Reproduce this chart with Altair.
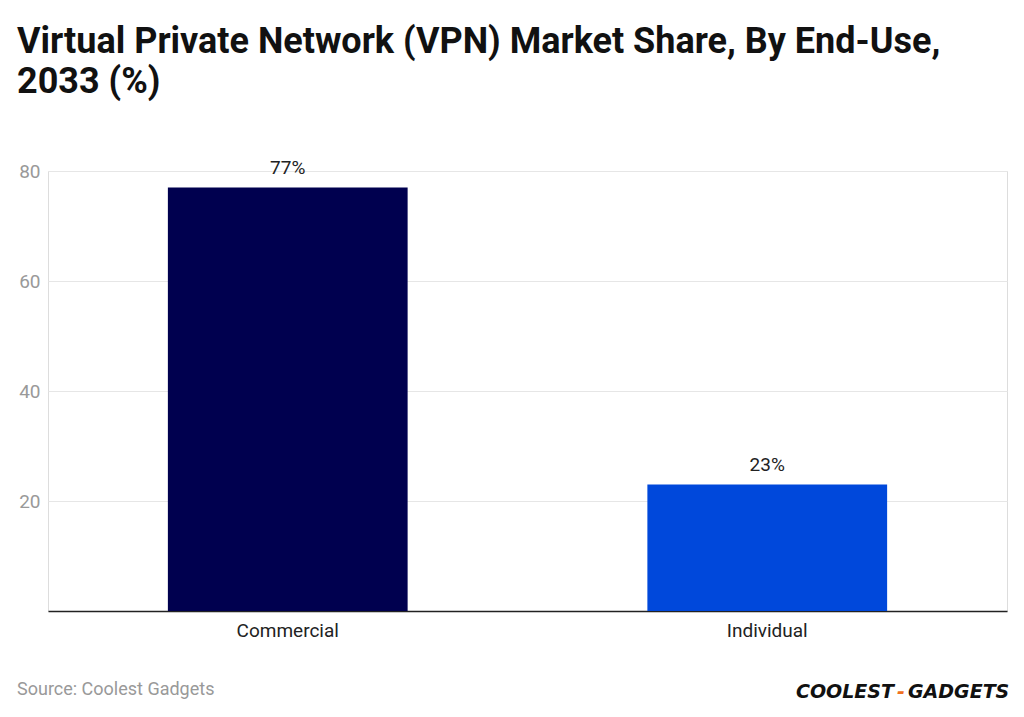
import altair as alt
import pandas as pd

categories = ["Commercial", "Individual"]
shares = [77, 23]
value_labels = ["77%", "23%"]
bar_colors = ["#00004f", "#0048db"]
y_ticks = [20, 40, 60, 80]
title_lines = ["Virtual Private Network (VPN) Market Share, By End-Use,", "2033 (%)"]
source_text = ["Source: Coolest Gadgets"]
logo_parts = ["COOLEST", "-", "GADGETS"]

df = pd.DataFrame({"cat": categories, "share": shares, "label": value_labels, "color": bar_colors})

W, H = 959, 440

x_enc = alt.X(
    "cat:N", sort=categories, title=None,
    scale=alt.Scale(paddingInner=0.5, paddingOuter=0.25),
    axis=alt.Axis(labelAngle=0, labelFontSize=19, labelColor="#222222", labelFont="Roboto",
                  ticks=False, domain=True, domainColor="#222222", domainWidth=1.5,
                  labelPadding=10, grid=False),
)
y_enc = alt.Y(
    "share:Q", title=None,
    scale=alt.Scale(domain=[0, 80], nice=False),
    axis=alt.Axis(values=y_ticks, labelFontSize=19, labelColor="#999999", labelFont="Roboto",
                  ticks=False, domain=False, gridColor="#e6e6e6", gridWidth=1, labelPadding=8),
)

base = alt.Chart(df)
bars = base.mark_bar().encode(x=x_enc, y=y_enc, color=alt.Color("color:N", scale=None))
vals = base.mark_text(dy=-10, fontSize=19, font="Roboto", color="#222222", baseline="bottom").encode(
    x=alt.X("cat:N", sort=categories), y="share:Q", text="label:N"
)

src = alt.Chart(pd.DataFrame({"t": source_text})).mark_text(
    align="left", baseline="middle", fontSize=18, font="Roboto", color="#999999"
).encode(x=alt.value(-31), y=alt.value(519), text="t:N")

logo1 = alt.Chart(pd.DataFrame({"t": [logo_parts[0]]})).mark_text(
    align="right", baseline="middle", fontSize=19, font="DejaVu Sans", fontWeight="bold",
    fontStyle="italic", color="#111111"
).encode(x=alt.value(846), y=alt.value(521), text="t:N")
logo2 = alt.Chart(pd.DataFrame({"t": [logo_parts[1]]})).mark_text(
    align="center", baseline="middle", fontSize=19, font="DejaVu Sans", fontWeight="bold",
    fontStyle="italic", color="#f07020"
).encode(x=alt.value(853), y=alt.value(521), text="t:N")
logo3 = alt.Chart(pd.DataFrame({"t": [logo_parts[2]]})).mark_text(
    align="left", baseline="middle", fontSize=19, font="DejaVu Sans", fontWeight="bold",
    fontStyle="italic", color="#111111"
).encode(x=alt.value(860), y=alt.value(521), text="t:N")

chart = alt.layer(bars, vals, src, logo1, logo2, logo3).properties(
    width=W, height=H,
    title=alt.TitleParams(
        text=title_lines, anchor="start", frame="group", dx=-31, offset=58,
        fontSize=36, font="Roboto", fontWeight="bold", color="#111111", lineHeight=40,
    ),
    padding={"left": 40, "top": 163, "right": 9, "bottom": 90},
    autosize=alt.AutoSizeParams(type="none"),
).configure_view(stroke=None).configure(background="white")

chart.save("out.html", embed_options={"renderer": "svg", "actions": False})
